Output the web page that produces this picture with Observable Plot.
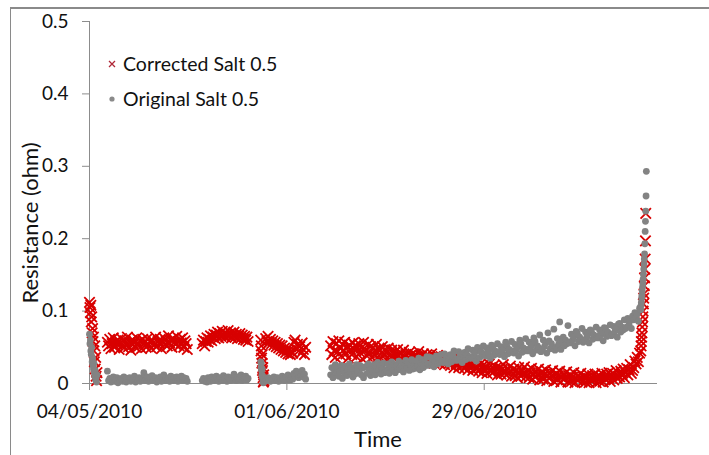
<!DOCTYPE html>
<html>
<head>
<meta charset="utf-8">
<script src="https://cdn.jsdelivr.net/npm/d3@7"></script>
<script src="https://cdn.jsdelivr.net/npm/@observablehq/plot@0.6"></script>
<style>
  html, body { margin: 0; padding: 0; background: #fff; }
  body { width: 709px; height: 455px; overflow: hidden; position: relative; font-family: Lato, "Open Sans", sans-serif; }
  #frame { position: absolute; left: 10px; top: 7px; width: 800px; height: 600px; border-left: 1px solid #8a8a8a; border-top: 2px solid #8a8a8a; }
  #chart { position: absolute; left: 0; top: 0; }
  .legend { position: absolute; left: 106px; font-size: 19.5px; color: #111; display: flex; align-items: center; white-space: nowrap; }
  .legend svg { margin-right: 5px; }
  #ytitle { position: absolute; left: 29px; top: 223px; transform: translate(-50%, -50%) rotate(-90deg); font-size: 22px; white-space: nowrap; color: #111; }
  #xtitle { position: absolute; left: 378px; top: 438px; transform: translate(-50%, -50%); font-size: 22px; white-space: nowrap; color: #111; }
</style>
</head>
<body>
<div id="frame"></div>
<div id="chart"></div>
<div class="legend" style="top:52px"><svg width="12" height="12"><path d="M3,3L9,9M9,3L3,9" stroke="#b02838" stroke-width="1.3"/></svg><span>Corrected Salt 0.5</span></div>
<div class="legend" style="top:87px"><svg width="12" height="12"><circle cx="6" cy="6" r="2.6" fill="#8a8a8a"/></svg><span>Original Salt 0.5</span></div>
<div id="ytitle">Resistance (ohm)</div>
<div id="xtitle">Time</div>
<script>
// ---- data (values in ohm), sampled at regular intervals from each segment start ----
const xTickDates = ["2010-05-04", "2010-06-01", "2010-06-29"];
const xTickLabels = ["04/05/2010", "01/06/2010", "29/06/2010"];
const yTicks = [0, 0.1, 0.2, 0.3, 0.4, 0.5];
const yTickLabels = ["0", "0.1", "0.2", "0.3", "0.4", "0.5"];

const segStarts = ["2010-05-04T00:00Z", "2010-05-06T13:00Z", "2010-05-20T00:00Z", "2010-05-28T07:00Z", "2010-05-29T00:00Z", "2010-06-07T05:00Z", "2010-07-21T05:00Z"];
const segStepHours = [1.5, 4, 4, 1, 4, 4, 1];

const corrA = [0.112,0.105,0.098,0.108,0.085,0.092,0.07,0.076,0.058,0.064,0.045,0.03,0.052,0.02,0.036,0.01,0.004,0.015];
const origA = [0.068,0.055,0.06,0.045,0.04,0.05,0.03,0.035,0.025,0.02,0.028,0.015,0.01,0.018,0.005,0.008,0.002,0.012];

const corrB = [0.057,0.052,0.061,0.048,0.055,0.063,0.05,0.058,0.054,0.06,0.047,0.056,0.062,0.053,0.049,0.059,0.055,0.064,0.051,0.057,0.046,0.06,0.054,0.058,0.05,0.063,0.056,0.052,0.059,0.048,0.061,0.055,0.057,0.05,0.062,0.054,0.058,0.049,0.06,0.056,0.053,0.064,0.051,0.058,0.055,0.061,0.048,0.057,0.063,0.054,0.059,0.052,0.066,0.056,0.06,0.05,0.062,0.057,0.054,0.065,0.058,0.052,0.061,0.056,0.063,0.05,0.059,0.055,0.047];
const origB = [0.017,0.004,0.007,0.002,0.006,0.009,0.003,0.005,0.008,0.001,0.006,0.004,0.007,0.003,0.009,0.005,0.002,0.007,0.004,0.008,0.003,0.006,0.005,0.01,0.002,0.006,0.004,0.008,0.003,0.007,0.005,0.015,0.004,0.006,0.009,0.003,0.007,0.005,0.011,0.004,0.006,0.008,0.002,0.007,0.005,0.009,0.003,0.006,0.012,0.004,0.008,0.005,0.007,0.003,0.01,0.006,0.004,0.008,0.005,0.009,0.003,0.007,0.006,0.01,0.004,0.008,0.005,0.007,0.003];

const corrC = [0.055,0.06,0.052,0.058,0.063,0.057,0.061,0.066,0.059,0.064,0.068,0.062,0.067,0.071,0.063,0.069,0.065,0.072,0.066,0.07,0.064,0.068,0.073,0.066,0.07,0.063,0.067,0.071,0.064,0.068,0.062,0.066,0.069,0.063,0.067,0.061,0.065,0.06,0.064,0.058];
const origC = [0.004,0.007,0.003,0.006,0.002,0.008,0.005,0.003,0.009,0.006,0.004,0.007,0.01,0.005,0.003,0.008,0.006,0.004,0.011,0.005,0.007,0.003,0.009,0.006,0.004,0.008,0.005,0.013,0.006,0.004,0.009,0.005,0.007,0.012,0.004,0.008,0.006,0.01,0.005,0.007];

const corrDv = [0.06,0.045,0.052,0.035,0.028,0.04,0.018,0.022,0.008,0.002,0.012,0.004];
const origDv = [0.03,0.022,0.028,0.018,0.012,0.02,0.008,0.01,0.003,0.001,0.005,0.002];

const corrD = [0.062,0.058,0.065,0.057,0.061,0.055,0.059,0.053,0.057,0.051,0.055,0.049,0.053,0.047,0.052,0.045,0.049,0.043,0.047,0.041,0.046,0.04,0.044,0.042,0.057,0.06,0.048,0.054,0.045,0.051,0.042,0.056,0.047,0.04,0.05];
const origD = [0.006,0.004,0.008,0.005,0.003,0.007,0.005,0.009,0.004,0.006,0.008,0.003,0.007,0.005,0.01,0.006,0.004,0.008,0.005,0.012,0.007,0.005,0.009,0.006,0.014,0.01,0.017,0.012,0.008,0.015,0.011,0.018,0.009,0.013,0.006];

const corrE = [
0.052,0.04,0.058,0.045,0.036,0.055, 0.044,0.059,0.049,0.038,0.054,0.046, 0.057,0.041,0.05,0.035,0.053,0.047,
0.04,0.056,0.048,0.052,0.037,0.05, 0.055,0.043,0.049,0.034,0.057,0.045, 0.047,0.038,0.054,0.042,0.051,0.036,
0.05,0.039,0.046,0.054,0.036,0.048, 0.045,0.035,0.051,0.04,0.047,0.033, 0.043,0.049,0.034,0.041,0.046,0.036,
0.035,0.044,0.038,0.047,0.032,0.041, 0.042,0.033,0.046,0.037,0.04,0.031, 0.034,0.043,0.039,0.03,0.041,0.036,
0.04,0.031,0.037,0.044,0.033,0.038, 0.033,0.041,0.036,0.029,0.04,0.035, 0.038,0.03,0.041,0.034,0.028,0.037,
0.031,0.039,0.035,0.027,0.037,0.033, 0.035,0.026,0.033,0.029,0.037,0.028, 0.025,0.034,0.03,0.022,0.032,0.027,
0.031,0.022,0.028,0.033,0.024,0.029, 0.021,0.03,0.026,0.019,0.028,0.024, 0.027,0.018,0.025,0.03,0.02,0.023,
0.017,0.026,0.022,0.015,0.025,0.02, 0.024,0.014,0.021,0.027,0.017,0.019, 0.015,0.025,0.018,0.022,0.012,0.021,
0.022,0.013,0.02,0.026,0.014,0.017, 0.012,0.021,0.016,0.024,0.01,0.019, 0.02,0.011,0.018,0.008,0.022,0.015,
0.01,0.019,0.014,0.023,0.009,0.016, 0.018,0.008,0.015,0.021,0.006,0.013, 0.009,0.017,0.012,0.02,0.005,0.014,
0.016,0.006,0.013,0.019,0.004,0.011, 0.007,0.015,0.01,0.018,0.003,0.012, 0.014,0.005,0.011,0.017,0.002,0.009,
0.006,0.013,0.008,0.016,0.002,0.01, 0.012,0.003,0.009,0.015,0.001,0.007, 0.005,0.011,0.007,0.014,0.002,0.009,
0.01,0.002,0.008,0.013,0.001,0.006, 0.004,0.011,0.006,0.013,0.001,0.008, 0.011,0.003,0.009,0.014,0.002,0.007,
0.006,0.013,0.008,0.015,0.003,0.011, 0.014,0.005,0.012,0.018,0.007,0.01, 0.009,0.017,0.012,0.02,0.008,0.015,
0.021,0.012,0.019,0.026,0.014,0.018, 0.022,0.031,0.027,0.036,0.03,0.042];
const origE = [
0.012,0.022,0.008,0.019,0.026,0.014, 0.021,0.01,0.017,0.025,0.007,0.018, 0.014,0.024,0.011,0.02,0.027,0.016,
0.022,0.009,0.019,0.013,0.026,0.017, 0.015,0.025,0.012,0.021,0.008,0.023, 0.023,0.014,0.027,0.018,0.011,0.02,
0.016,0.026,0.012,0.022,0.029,0.018, 0.024,0.013,0.021,0.028,0.015,0.019, 0.017,0.027,0.014,0.023,0.03,0.02,
0.026,0.015,0.024,0.019,0.031,0.021, 0.019,0.028,0.016,0.025,0.032,0.022, 0.029,0.018,0.026,0.033,0.02,0.025,
0.021,0.031,0.024,0.035,0.019,0.028, 0.033,0.022,0.03,0.025,0.037,0.027, 0.025,0.036,0.028,0.033,0.023,0.031,
0.038,0.027,0.034,0.029,0.04,0.031, 0.029,0.041,0.033,0.037,0.027,0.036, 0.04,0.03,0.038,0.045,0.032,0.034,
0.032,0.044,0.036,0.041,0.029,0.039, 0.043,0.033,0.04,0.048,0.035,0.037, 0.035,0.046,0.038,0.043,0.031,0.05,
0.047,0.036,0.044,0.039,0.052,0.041, 0.038,0.049,0.042,0.046,0.035,0.053, 0.05,0.039,0.045,0.041,0.055,0.043,
0.04,0.051,0.044,0.048,0.037,0.057, 0.052,0.041,0.047,0.043,0.058,0.045, 0.042,0.054,0.046,0.05,0.038,0.06,
0.055,0.043,0.049,0.045,0.062,0.047, 0.045,0.057,0.048,0.053,0.041,0.063, 0.058,0.046,0.052,0.049,0.067,0.044,
0.047,0.06,0.051,0.056,0.042,0.07, 0.059,0.048,0.055,0.05,0.075,0.046, 0.05,0.062,0.054,0.085,0.047,0.059,
0.064,0.052,0.06,0.055,0.08,0.057, 0.056,0.068,0.06,0.065,0.052,0.072, 0.069,0.058,0.064,0.061,0.076,0.057,
0.06,0.071,0.064,0.068,0.056,0.074, 0.072,0.061,0.067,0.063,0.078,0.065, 0.063,0.074,0.067,0.071,0.059,0.077,
0.076,0.065,0.071,0.068,0.081,0.066, 0.068,0.079,0.072,0.076,0.064,0.082, 0.083,0.071,0.078,0.074,0.088,0.076,
0.078,0.09,0.082,0.087,0.076,0.093, 0.088,0.098,0.091,0.096,0.086,0.104];

const corrS = [0.045,0.052,0.058,0.064,0.07,0.078,0.085,0.092,0.1,0.11,0.118,0.124,0.135,0.146,0.158,0.172,0.197,0.235];
const origS = [0.102,0.108,0.112,0.118,0.122,0.128,0.133,0.138,0.144,0.151,0.158,0.165,0.172,0.179,0.193,0.21,0.224,0.238,0.259,0.293];

const corrSegs = [corrA, corrB, corrC, corrDv, corrD, corrE, corrS];
const origSegs = [origA, origB, origC, origDv, origD, origE, origS];

function build(segs) {
  const out = [];
  segs.forEach((vals, s) => {
    const t0 = Date.parse(segStarts[s]);
    vals.forEach((v, i) => out.push({t: new Date(t0 + i * segStepHours[s] * 3600e3), v}));
  });
  return out;
}
const corrected = build(corrSegs);
const original = build(origSegs);

const xDomain = [new Date("2010-05-04T00:00Z"), new Date("2010-07-23T14:00Z")];
const xTicks = xTickDates.map(d => new Date(d + "T00:00Z"));

const chart = Plot.plot({
  width: 709,
  height: 455,
  marginLeft: 89,
  marginRight: 52,
  marginTop: 21,
  marginBottom: 72,
  style: {fontFamily: "Lato, 'Open Sans', sans-serif", color: "#111", background: "transparent", overflow: "visible"},
  x: {type: "utc", domain: xDomain},
  y: {domain: [0, 0.5]},
  marks: [
    Plot.ruleX([xDomain[0]], {stroke: "#8c8c8c", strokeWidth: 1}),
    Plot.ruleY([0], {stroke: "#8c8c8c", strokeWidth: 1}),
    Plot.axisY({ticks: yTicks, tickFormat: (d, i) => yTickLabels[yTicks.indexOf(d)], tickSize: 7, tickPadding: 14, fontSize: 19, stroke: "#8c8c8c", label: null}),
    Plot.axisX({ticks: xTicks, tickFormat: d => xTickLabels[xTicks.findIndex(t => +t === +d)], tickSize: 7, tickPadding: 14, fontSize: 19, stroke: "#8c8c8c", label: null}),
    Plot.dot(corrected, {x: "t", y: "v", symbol: "times", r: 4.8, stroke: "#d80000", strokeWidth: 1.8}),
    Plot.dot(original, {x: "t", y: "v", symbol: "circle", r: 3.4, fill: "#838383", stroke: "none"})
  ]
});
document.getElementById("chart").appendChild(chart);
</script>
</body>
</html>
